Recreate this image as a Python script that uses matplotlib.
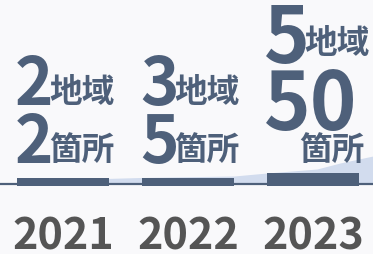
import matplotlib
matplotlib.use("Agg")
import matplotlib.pyplot as plt

plt.rcParams['font.family'] = ['Noto Sans CJK JP', 'DejaVu Sans']

# ---- data ----
years = ["2021", "2022", "2023"]
regions = ["2", "3", "5"]
sites = ["2", "5", "50"]
region_unit = "地域"
site_unit = "箇所"
bar_heights = [8, 8, 13]
area_x = [0.0, 0.336, 0.616, 1.368, 1.632, 2.032, 2.216, 2.48]
area_y = [2, 7.5, 8.5, 10, 13, 17, 23, 30]

slate = "#4e607a"
light = "#d2dcee"
bg = "#f9f9fb"
grey = "#555555"

fig = plt.figure(figsize=(3.73, 2.54), dpi=100, facecolor=bg)
ax = fig.add_axes([0, 0, 1, 1])
ax.set_facecolor(bg)
ax.set_xlim(-0.504, 2.48)
ax.set_ylim(-68, 186)
ax.axis("off")

xs = list(range(len(years)))
ax.fill_between(area_x, 2, area_y, color=light, lw=0, zorder=1)
ax.axhline(2, color=slate, lw=1.6, zorder=2)
ax.bar(xs, bar_heights, width=0.736, bottom=0, color=slate, zorder=3)

def put(txt, x, dx, dy, size, color=slate, weight="bold"):
    ax.annotate(txt, xy=(x, 0), xytext=(dx, dy), textcoords="offset pixels",
                ha="left", va="baseline", fontsize=size, fontweight=weight,
                color=color, zorder=4)

for i in xs:
    if len(sites[i]) == 1:
        put(regions[i], i, -48, 81, 47)
        put(region_unit, i, -14, 84, 23.5)
        put(sites[i], i, -48, 23, 47)
        put(site_unit, i, -14, 26, 23.5)
    else:
        put(regions[i], i, -49, 123, 56)
        put(region_unit, i, -9, 133, 23.5)
        put(sites[i], i, -49, 56, 57)
        put(site_unit, i, -14, 26, 23.5)
    ax.annotate(years[i], xy=(i, 0), xytext=(0, -64), textcoords="offset pixels",
                ha="center", va="baseline", fontsize=31, fontweight="bold",
                color=grey, zorder=4)

fig.savefig("out.png", dpi=100, facecolor=bg)
